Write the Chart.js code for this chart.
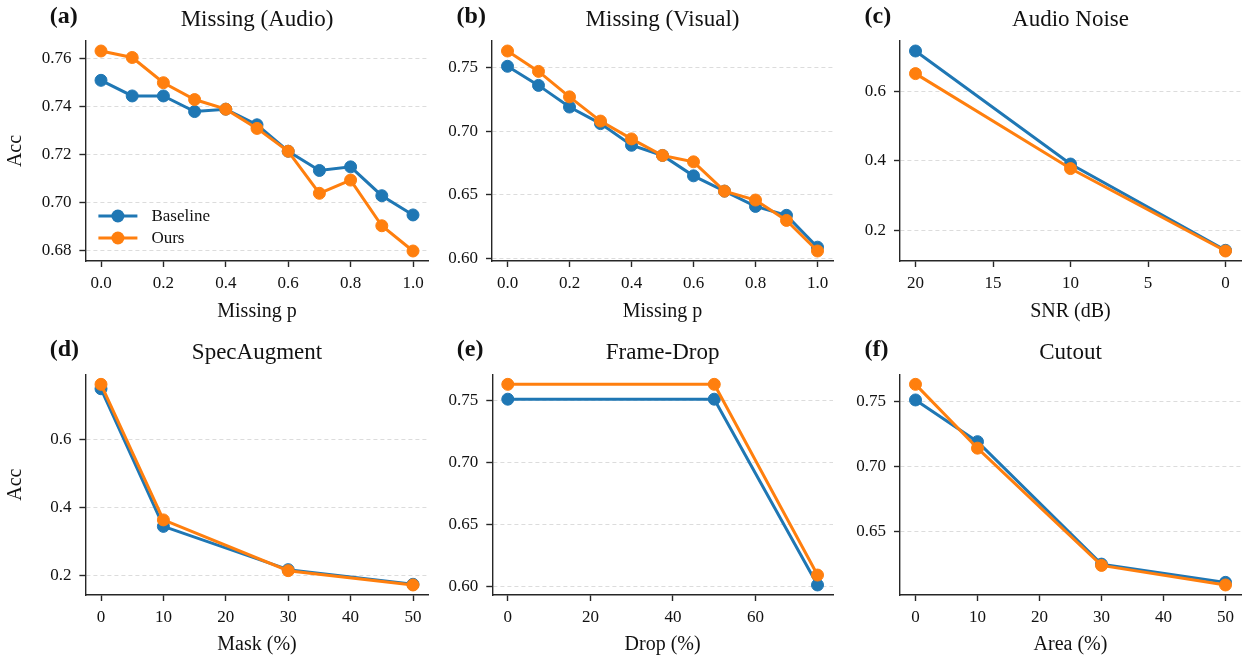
<!DOCTYPE html>
<html>
<head>
<meta charset="utf-8">
<script src="https://cdn.jsdelivr.net/npm/chart.js@4.4.0/dist/chart.umd.min.js"></script>
<style>
  body { margin: 0; background: #fff; }
  #wrap { position: relative; width: 1248px; height: 655px; overflow: hidden; }
  canvas { position: absolute; }
</style>
</head>
<body>
<div id="wrap">
  <canvas id="ca"></canvas>
  <canvas id="cb"></canvas>
  <canvas id="cc"></canvas>
  <canvas id="cd"></canvas>
  <canvas id="ce"></canvas>
  <canvas id="cf"></canvas>
</div>
<script>
// values
const missingP = [0.0, 0.1, 0.2, 0.3, 0.4, 0.5, 0.6, 0.7, 0.8, 0.9, 1.0];
const audioBase = [0.751, 0.7445, 0.7445, 0.738, 0.739, 0.7325, 0.7215, 0.7135, 0.715, 0.703, 0.695];
const audioOurs = [0.7632, 0.7605, 0.750, 0.743, 0.739, 0.731, 0.7215, 0.704, 0.7095, 0.6905, 0.680];
const visualBase = [0.751, 0.736, 0.719, 0.706, 0.689, 0.681, 0.665, 0.653, 0.641, 0.634, 0.609];
const visualOurs = [0.763, 0.747, 0.727, 0.708, 0.694, 0.681, 0.676, 0.653, 0.646, 0.630, 0.606];
const snrDb = [20, 10, 0];
const noiseBase = [0.716, 0.391, 0.143];
const noiseOurs = [0.651, 0.378, 0.141];
const maskPct = [0, 10, 30, 50];
const specBase = [0.749, 0.345, 0.218, 0.175];
const specOurs = [0.762, 0.364, 0.215, 0.173];
const dropPct = [0, 50, 75];
const dropBase = [0.751, 0.751, 0.601];
const dropOurs = [0.763, 0.763, 0.609];
const areaPct = [0, 10, 30, 50];
const cutBase = [0.751, 0.719, 0.625, 0.611];
const cutOurs = [0.763, 0.714, 0.624, 0.609];

// tick labels
const pTicks = [0.0, 0.2, 0.4, 0.6, 0.8, 1.0];
const snrTicks = [20, 15, 10, 5, 0];
const pct50Ticks = [0, 10, 20, 30, 40, 50];
const dropTicks = [0, 20, 40, 60];
const accTicksA = [0.68, 0.70, 0.72, 0.74, 0.76];
const accTicksB = [0.60, 0.65, 0.70, 0.75];
const accTicksC = [0.2, 0.4, 0.6];
const accTicksD = [0.2, 0.4, 0.6];
const accTicksE = [0.60, 0.65, 0.70, 0.75];
const accTicksF = [0.65, 0.70, 0.75];

const BLUE = '#1f77b4';
const ORANGE = '#ff7f0e';
const INK = '#262626';
const SERIF = '"Liberation Serif", "DejaVu Serif", serif';

// panel title, (x) tag and the legend of panel (a)
const panelText = {
  id: 'panelText',
  afterDatasetsDraw(chart, args, o) {
    const { ctx, chartArea: a } = chart;
    ctx.save();
    ctx.fillStyle = '#111';
    ctx.textBaseline = 'alphabetic';
    ctx.font = 'bold 24px ' + SERIF;
    ctx.textAlign = 'left';
    ctx.fillText(o.tag, a.left - 0.104 * (a.right - a.left), a.top - 18);
    ctx.font = '23px ' + SERIF;
    ctx.textAlign = 'center';
    ctx.fillText(o.title, (a.left + a.right) / 2, a.top - 15);
    if (o.legend) {
      chart.data.datasets.forEach((ds, i) => {
        const y = a.bottom - 45 + i * 22;
        const x0 = a.left + 13;
        ctx.strokeStyle = ds.borderColor;
        ctx.lineWidth = 3;
        ctx.beginPath();
        ctx.moveTo(x0, y);
        ctx.lineTo(x0 + 39, y);
        ctx.stroke();
        ctx.fillStyle = ds.borderColor;
        ctx.beginPath();
        ctx.arc(x0 + 19.5, y, 6.5, 0, Math.PI * 2);
        ctx.fill();
        ctx.fillStyle = '#111';
        ctx.font = '17px ' + SERIF;
        ctx.textAlign = 'left';
        ctx.textBaseline = 'middle';
        ctx.fillText(ds.label, x0 + 53, y + 1);
      });
    }
    ctx.restore();
  }
};

function padRange(vals) {
  const lo = Math.min(...vals), hi = Math.max(...vals);
  const m = 0.05 * (hi - lo);
  return [lo - m, hi + m];
}

function series(xs, ys) {
  return xs.map((x, i) => ({ x: x, y: ys[i] }));
}

function makePanel(p) {
  const cv = document.getElementById(p.id);
  cv.width = p.w;
  cv.height = p.h;
  cv.style.left = p.x + 'px';
  cv.style.top = p.y + 'px';
  const [xmin, xmax] = padRange(p.xs);
  const [ymin, ymax] = padRange(p.base.concat(p.ours));
  const lineDs = (label, xs, ys, color, order) => ({
    label: label,
    data: series(xs, ys),
    borderColor: color,
    backgroundColor: color,
    borderWidth: 3,
    pointRadius: 6,
    pointBorderWidth: 1,
    pointBackgroundColor: color,
    pointBorderColor: color,
    tension: 0,
    clip: false,
    order: order
  });
  new Chart(cv, {
    type: 'line',
    data: {
      datasets: [
        lineDs('Baseline', p.xs, p.base, BLUE, 1),
        lineDs('Ours', p.xs, p.ours, ORANGE, 0)
      ]
    },
    options: {
      responsive: false,
      animation: false,
      events: [],
      layout: { padding: { left: 0, top: p.area.t, right: p.w - p.area.r, bottom: 0 } },
      plugins: {
        legend: { display: false },
        tooltip: { enabled: false },
        panelText: { tag: p.tag, title: p.title, legend: !!p.legend }
      },
      scales: {
        x: {
          type: 'linear',
          min: xmin,
          max: xmax,
          reverse: !!p.reverse,
          afterBuildTicks: s => { s.ticks = p.xTicks.map(v => ({ value: v })); },
          afterFit: s => { s.height = p.h - p.area.b; },
          grid: { drawOnChartArea: false, drawTicks: true, tickLength: 6, tickColor: INK, tickWidth: 1.4 },
          border: { color: INK, width: 1.4 },
          ticks: {
            autoSkip: false, maxRotation: 0, padding: 6, color: '#111',
            font: { family: SERIF, size: 17 },
            callback: v => v.toFixed(p.xDec)
          },
          title: {
            display: true, text: p.xTitle, color: '#111',
            font: { family: SERIF, size: 20, lineHeight: 1.0 },
            padding: { top: 0, bottom: p.xTitlePad }
          }
        },
        y: {
          type: 'linear',
          min: ymin,
          max: ymax,
          afterBuildTicks: s => { s.ticks = p.yTicks.map(v => ({ value: v })); },
          afterFit: s => { s.width = p.area.l; },
          grid: { drawOnChartArea: true, color: '#dcdcdc', lineWidth: 1, drawTicks: true, tickLength: 6, tickColor: INK, tickWidth: 1.4, tickBorderDash: [] },
          border: { color: INK, width: 1.4, dash: [4, 3] },
          ticks: {
            autoSkip: false, padding: 8, color: '#111',
            font: { family: SERIF, size: 17 },
            callback: v => v.toFixed(p.yDec)
          },
          title: {
            display: !!p.yTitle, text: p.yTitle || '', color: '#111',
            font: { family: SERIF, size: 20 },
            padding: { top: 4, bottom: 0 }
          }
        }
      }
    },
    plugins: [panelText]
  });
}

makePanel({ id: 'ca', x: 0, y: 0, w: 436, h: 327, area: { l: 85.4, t: 41, r: 428.6, b: 261 },
  tag: '(a)', title: 'Missing (Audio)', legend: true,
  xs: missingP, base: audioBase, ours: audioOurs,
  xTicks: pTicks, xDec: 1, yTicks: accTicksA, yDec: 2,
  xTitle: 'Missing p', xTitlePad: 5, yTitle: 'Acc' });

makePanel({ id: 'cb', x: 416, y: 0, w: 424, h: 327, area: { l: 76, t: 41, r: 419.6, b: 261 },
  tag: '(b)', title: 'Missing (Visual)',
  xs: missingP, base: visualBase, ours: visualOurs,
  xTicks: pTicks, xDec: 1, yTicks: accTicksB, yDec: 2,
  xTitle: 'Missing p', xTitlePad: 5 });

makePanel({ id: 'cc', x: 832, y: 0, w: 416, h: 327, area: { l: 68, t: 41, r: 411, b: 261 },
  tag: '(c)', title: 'Audio Noise', reverse: true,
  xs: snrDb, base: noiseBase, ours: noiseOurs,
  xTicks: snrTicks, xDec: 0, yTicks: accTicksC, yDec: 1,
  xTitle: 'SNR (dB)', xTitlePad: 5 });

makePanel({ id: 'cd', x: 0, y: 327, w: 436, h: 328, area: { l: 85.4, t: 47.3, r: 428.6, b: 268 },
  tag: '(d)', title: 'SpecAugment',
  xs: maskPct, base: specBase, ours: specOurs,
  xTicks: pct50Ticks, xDec: 0, yTicks: accTicksD, yDec: 1,
  xTitle: 'Mask (%)', xTitlePad: 0, yTitle: 'Acc' });

makePanel({ id: 'ce', x: 416, y: 327, w: 424, h: 328, area: { l: 76.3, t: 47.3, r: 419.6, b: 268 },
  tag: '(e)', title: 'Frame-Drop',
  xs: dropPct, base: dropBase, ours: dropOurs,
  xTicks: dropTicks, xDec: 0, yTicks: accTicksE, yDec: 2,
  xTitle: 'Drop (%)', xTitlePad: 0 });

makePanel({ id: 'cf', x: 832, y: 327, w: 416, h: 328, area: { l: 68, t: 47.3, r: 411, b: 268 },
  tag: '(f)', title: 'Cutout',
  xs: areaPct, base: cutBase, ours: cutOurs,
  xTicks: pct50Ticks, xDec: 0, yTicks: accTicksF, yDec: 2,
  xTitle: 'Area (%)', xTitlePad: 0 });
</script>
</body>
</html>
